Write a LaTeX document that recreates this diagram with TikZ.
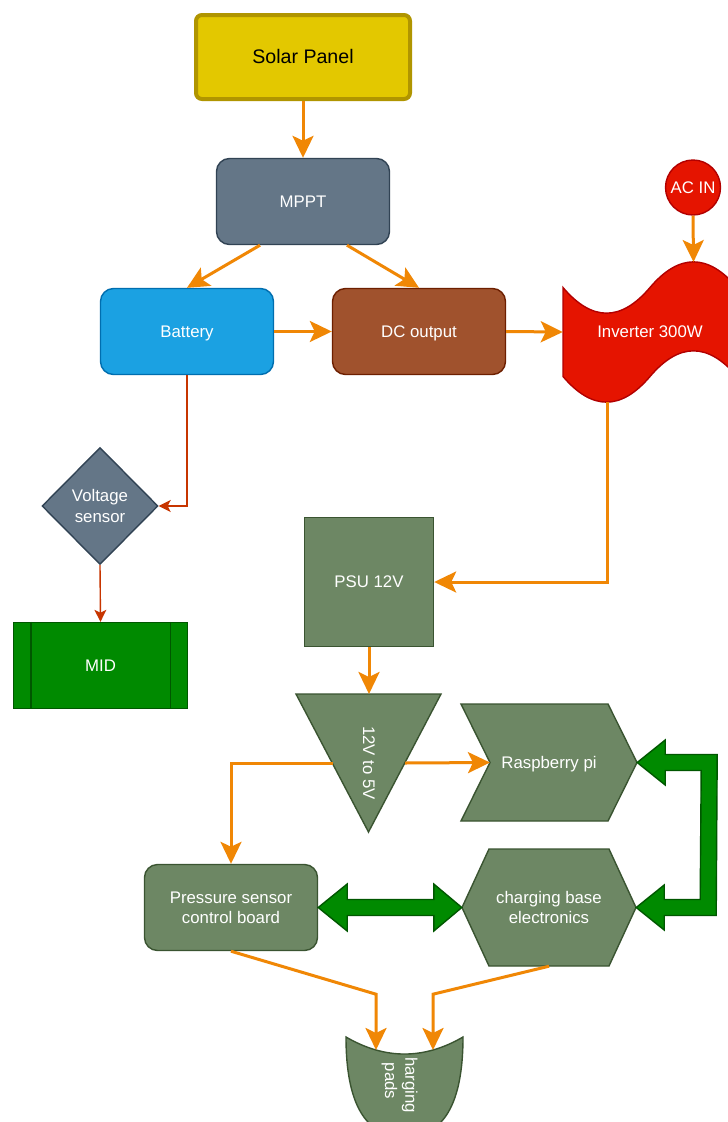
\documentclass[tikz,border=0pt]{standalone}
\usepackage{fontspec}
\setmainfont{Liberation Sans}
\usetikzlibrary{arrows.meta,shapes.geometric,calc}
\definecolor{solarF}{HTML}{E3C800}
\definecolor{solarD}{HTML}{B09500}
\definecolor{mpptF}{HTML}{647687}
\definecolor{mpptD}{HTML}{314354}
\definecolor{batF}{HTML}{1BA1E2}
\definecolor{batD}{HTML}{006EAF}
\definecolor{dcF}{HTML}{A0522D}
\definecolor{dcD}{HTML}{6D1F00}
\definecolor{invF}{HTML}{E51400}
\definecolor{invD}{HTML}{B20000}
\definecolor{gF}{HTML}{6D8764}
\definecolor{gD}{HTML}{3A5431}
\definecolor{midF}{HTML}{008A00}
\definecolor{midD}{HTML}{005700}
\definecolor{orng}{HTML}{F08705}
\definecolor{redl}{HTML}{C73500}
\begin{document}
\begin{tikzpicture}[x=1pt,y=-1pt,
  every node/.style={font=\fontsize{16.8}{20.2}\selectfont, text=white, inner sep=0pt, align=center},
  oneline/.style={text height=13.5pt, text depth=2pt},
  box/.style={draw, line width=1.4pt, minimum width=173pt, minimum height=86pt},
  shp/.style={line width=1.4pt},
  oarr/.style={draw=orng, line width=3pt, -{Stealth[length=22pt,width=21pt,inset=5pt]}},
  tarr/.style={draw=redl, line width=1.4pt, -{Stealth[length=12pt,width=12pt,inset=3pt]}},
  flex/.style={fill=midF, draw=midD, line width=1.4pt, line join=miter}]
\useasboundingbox (0,0) rectangle (728,1122);
\fill[white] (0,0) rectangle (728,1122);

% top nodes
\node[box, fill=solarF, draw=solarD, line width=4pt, minimum width=214pt, minimum height=84pt,
      rounded corners=6pt, text=black, font=\fontsize{19.6}{23}\selectfont,
      text height=15.7pt, text depth=2.3pt] (solar) at (303,57) {Solar Panel};
\node[box, oneline, fill=mpptF, draw=mpptD, rounded corners=13pt] (mppt) at (303,201.5) {MPPT};
\node[box, oneline, fill=batF, draw=batD, rounded corners=13pt] (bat) at (187,331.5) {Battery};
\node[box, oneline, fill=dcF, draw=dcD, rounded corners=13pt] (dc) at (419,331.5) {DC output};
\node[circle, oneline, fill=invF, draw=invD, line width=1.4pt, minimum size=55pt] (acin) at (693,187.5) {AC IN};

% inverter (tape)
\path[shp, fill=invF, draw=invD] (563,287.5) .. controls (592,321.7) and (621,321.7) .. (650,287.5)
  .. controls (679,253.3) and (708,253.3) .. (737,287.5) -- (737,376.5)
  .. controls (708,342.3) and (679,342.3) .. (650,376.5)
  .. controls (621,410.7) and (592,410.7) .. (563,376.5) -- cycle;
\node[oneline, minimum width=174pt, minimum height=146pt] (inv) at (650,332) {Inverter 300W};
\coordinate (invtop) at (693.5,262);
\coordinate (invbot) at (607,402);

% voltage sensor and MID
\node[diamond, fill=mpptF, draw=mpptD, line width=1.4pt, minimum width=116pt, minimum height=117pt] (volt) at (100,506) {Voltage\\sensor};
\node[box, oneline, fill=midF, draw=midD, minimum width=174pt, minimum height=86pt] (mid) at (100.5,665.5) {MID};
\draw[midD, line width=1.4pt] ($(mid.north west)+(18,0)$) -- ($(mid.south west)+(18,0)$);
\draw[midD, line width=1.4pt] ($(mid.north east)+(-18,0)$) -- ($(mid.south east)+(-18,0)$);

% PSU
\node[box, oneline, fill=gF, draw=gD, minimum width=129pt, minimum height=129pt] (psu) at (369,582) {PSU 12V};

% 12V to 5V triangle
\path[shp, fill=gF, draw=gD] (296,694) -- (441,694) -- (368.5,832) -- cycle;
\node[rotate=-90] (tri) at (369,763) {12V to 5V};
\coordinate (tritop) at (369,694);
\coordinate (triL) at (332.5,763);
\coordinate (triR) at (405,763);

% Raspberry pi (step)
\path[shp, fill=gF, draw=gD] (461,704) -- (608,704) -- (637,762.5) -- (608,821) -- (461,821) -- (490,762.5) -- cycle;
\node[oneline, minimum width=176pt, minimum height=117pt] (rpi) at (549,762.5) {Raspberry pi};
\coordinate (rpiin) at (490,762.5);

% pressure sensor board
\node[box, fill=gF, draw=gD, rounded corners=13pt] (psb) at (231,907.5) {Pressure sensor\\control board};

% charging base electronics (hexagon)
\path[shp, fill=gF, draw=gD] (462,907.5) -- (489,849) -- (609,849) -- (636,907.5) -- (609,966) -- (489,966) -- cycle;
\node[minimum width=174pt, minimum height=117pt] (cbe) at (549,907.5) {charging base\\electronics};

% charging pads
\path[shp, fill=gF, draw=gD] (346,1037) .. controls (346,1103.7) and (365.5,1137) .. (404.5,1137)
  .. controls (443.5,1137) and (463,1103.7) .. (463,1037)
  .. controls (424,1059.7) and (385,1059.7) .. (346,1037) -- cycle;
\begin{scope}
\clip (340,1057.5) rectangle (470,1140);
\node[rotate=-90] (pads) at (399.5,1081) {charging\\pads};
\end{scope}
\coordinate (padL) at (376,1050);
\coordinate (padR) at (433,1050);

% green flex arrows
\draw[flex] (psb.east) -- ++(29,-23.5) -- ++(0,15.5) -- ($(cbe.west)+(-28,-8)$) -- ++(0,-15.5)
  -- (cbe.west) -- ++(-28,23.5) -- ++(0,-15.5) -- ($(psb.east)+(29,8)$) -- ++(0,15.5) -- cycle;
\draw[flex] (rpi.east) -- ++(28,-22.5) -- ++(0,14.5) -- ($(rpi.east)+(80,-8)$) -- ($(cbe.east)+(80,8)$)
  -- ($(cbe.east)+(28,8)$) -- ++(0,14.5) -- (cbe.east) -- ++(28,-22.5) -- ++(0,14.5)
  -- ($(cbe.east)+(64,-8)$) -- ($(rpi.east)+(64,8)$) -- ($(rpi.east)+(28,8)$) -- ++(0,14.5) -- cycle;

% orange connectors
\draw[oarr] (solar.south) -- (mppt.north);
\draw[oarr] ($(mppt.south)+(-43,0)$) -- (bat.north);
\draw[oarr] ($(mppt.south)+(44,0)$) -- (dc.north);
\draw[oarr] (bat.east) -- (dc.west);
\draw[oarr] (dc.east) -- (inv.west);
\draw[oarr] (acin.south) -- (invtop);
\draw[oarr] (invbot) |- (psu.east);
\draw[oarr] (psu.south) -- (tritop);
\draw[oarr] (triL) -| (psb.north);
\draw[oarr] (triR) -- (rpiin);
\draw[oarr] (psb.south) -- ++(145,43) -- (padL);
\draw[oarr] (cbe.south) -- ++(-116,28) -- (padR);

% thin red connectors
\draw[tarr] (bat.south) |- (volt.east);
\draw[tarr] (volt.south) -- (mid.north);
\end{tikzpicture}
\end{document}
